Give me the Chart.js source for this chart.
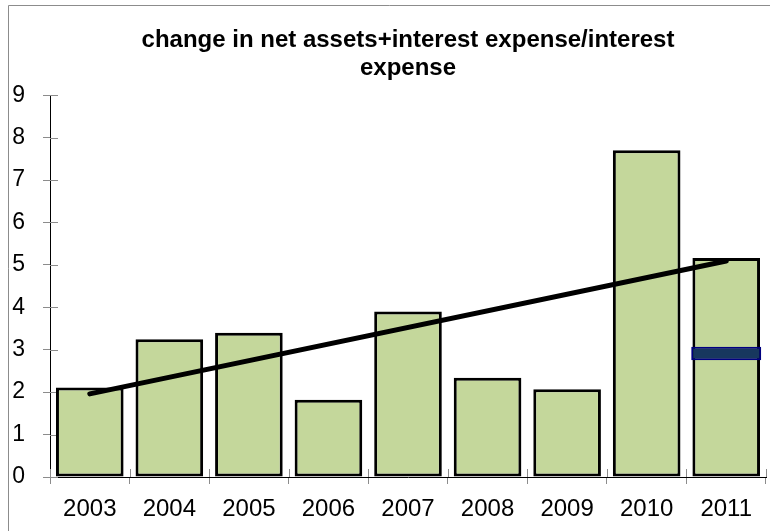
<!DOCTYPE html>
<html>
<head>
<meta charset="utf-8">
<script src="https://cdn.jsdelivr.net/npm/chart.js@4/dist/chart.umd.min.js"></script>
<style>
  html, body { margin: 0; padding: 0; background: #fff; }
  #wrap { width: 770px; height: 531px; }
</style>
</head>
<body>
<div id="wrap"><canvas id="myChart" width="770" height="531"></canvas></div>
<script>
const years = ['2003', '2004', '2005', '2006', '2007', '2008', '2009', '2010', '2011'];
const ratio = [2.11, 3.25, 3.40, 1.82, 3.90, 2.34, 2.07, 7.70, 5.16];
// dark band sitting inside the 2011 bar
const band2011 = [2.75, 3.07];
// linear trend, first and last year
const trendEnds = [1.96, 5.09];
const yMax = 9;

const titleLines = ['change in net assets+interest expense/interest', 'expense'];

const bandData = years.map((y, i) => (i === years.length - 1 ? band2011 : null));
const trendData = years.map((y, i) => (i === 0 ? trendEnds[0] : i === years.length - 1 ? trendEnds[1] : null));

// outer frame of the chart object, plus the part of each tick that pokes inside the axes
const frame = {
    id: 'frame',
    beforeDraw(chart) {
        const c = chart.ctx;
        c.save();
        c.fillStyle = '#fff';
        c.fillRect(0, 0, chart.width, chart.height);
        c.strokeStyle = '#8c8c8c';
        c.lineWidth = 1;
        c.beginPath();
        c.moveTo(8.5, chart.height);
        c.lineTo(8.5, 5.5);
        c.lineTo(chart.width, 5.5);
        c.stroke();
        c.restore();
    },
    beforeDatasetsDraw(chart) {
        const c = chart.ctx;
        const x = chart.scales.x, y = chart.scales.y;
        c.save();
        c.strokeStyle = '#8c8c8c';
        c.lineWidth = 1;
        c.beginPath();
        y.ticks.forEach((t, i) => {
            const py = Math.round(y.getPixelForTick(i)) + 0.5;
            c.moveTo(y.right, py);
            c.lineTo(y.right + 8, py);
        });
        for (let i = 0; i <= years.length; i++) {
            const px = Math.round(x.left + (x.right - x.left) * i / years.length) + 0.5;
            c.moveTo(px, x.top);
            c.lineTo(px, x.top - 8);
        }
        c.stroke();
        c.restore();
    }
};

const ctx = document.getElementById('myChart');
new Chart(ctx, {
    type: 'bar',
    data: {
        labels: years,
        datasets: [
            {
                type: 'line',
                data: trendData,
                spanGaps: true,
                borderColor: '#000',
                borderWidth: 5,
                borderCapStyle: 'round',
                pointRadius: 0,
                order: 0
            },
            {
                data: bandData,
                grouped: false,
                backgroundColor: '#17375e',
                borderColor: '#000080',
                borderWidth: 2,
                borderSkipped: false,
                categoryPercentage: 1,
                barPercentage: 0.88,
                order: 1
            },
            {
                data: ratio,
                grouped: false,
                backgroundColor: '#c4d79b',
                borderColor: '#000',
                borderWidth: 3,
                borderSkipped: false,
                categoryPercentage: 1,
                barPercentage: 0.85,
                order: 2
            }
        ]
    },
    options: {
        responsive: false,
        animation: false,
        layout: { padding: { left: 0, right: 4, top: 0, bottom: 0 } },
        plugins: {
            legend: { display: false },
            tooltip: { enabled: false },
            title: {
                display: true,
                text: titleLines,
                fullSize: false,
                color: '#000',
                font: { family: '"Liberation Sans", Arial, sans-serif', size: 24, weight: 'bold', lineHeight: 1.15 },
                padding: { top: 27, bottom: 13 }
            }
        },
        scales: {
            x: {
                grid: { offset: true, drawOnChartArea: false, drawTicks: true, tickLength: 7, color: '#8c8c8c' },
                border: { display: true, color: '#000', width: 1 },
                ticks: {
                    color: '#000',
                    padding: 11,
                    maxRotation: 0,
                    font: { family: '"Liberation Sans", Arial, sans-serif', size: 24 }
                },
                afterFit(scale) { scale.height = 54; }
            },
            y: {
                min: 0,
                max: yMax,
                grid: { drawOnChartArea: false, drawTicks: true, tickLength: 7, color: '#8c8c8c' },
                border: { display: true, color: '#000', width: 1 },
                ticks: {
                    stepSize: 1,
                    color: '#000',
                    padding: 18,
                    font: { family: '"Liberation Sans", Arial, sans-serif', size: 23 }
                },
                afterFit(scale) { scale.width = 50; }
            }
        }
    },
    plugins: [frame]
});
</script>
</body>
</html>
